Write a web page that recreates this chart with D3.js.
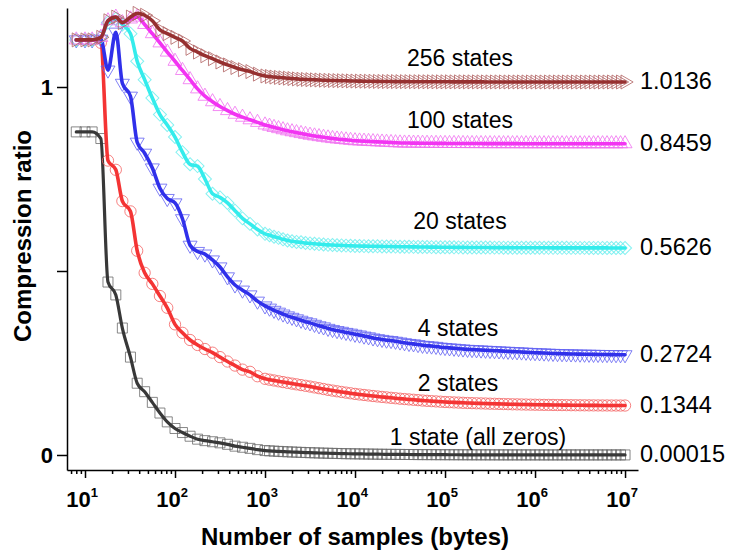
<!DOCTYPE html>
<html><head><meta charset="utf-8">
<script src="https://cdn.jsdelivr.net/npm/d3@7"></script>
<style>
body{margin:0;background:#fff}
svg{display:block}
text{font-family:"Liberation Sans",Arial,Helvetica,sans-serif;fill:#000}
</style>
</head><body>
<svg id="chart" width="730" height="554"></svg>
<script>
// ---------------- DATA ----------------
const samples = [8,10,12,15,18,22,26,32,38,46,56,68,82,100,121,147,178,215,261,316,383,464,562,681,825,1000,
1.122e3,1.259e3,1.413e3,1.585e3,1.778e3,1.995e3,2.239e3,2.512e3,2.818e3,3.162e3,3.548e3,3.981e3,4.467e3,5.012e3,5.623e3,6.310e3,7.079e3,7.943e3,8.913e3,1e4,
1.122e4,1.259e4,1.413e4,1.585e4,1.778e4,1.995e4,2.239e4,2.512e4,2.818e4,3.162e4,3.548e4,3.981e4,4.467e4,5.012e4,5.623e4,6.310e4,7.079e4,7.943e4,8.913e4,1e5,
1.122e5,1.259e5,1.413e5,1.585e5,1.778e5,1.995e5,2.239e5,2.512e5,2.818e5,3.162e5,3.548e5,3.981e5,4.467e5,5.012e5,5.623e5,6.310e5,7.079e5,7.943e5,8.913e5,1e6,
1.122e6,1.259e6,1.413e6,1.585e6,1.778e6,1.995e6,2.239e6,2.512e6,2.818e6,3.162e6,3.548e6,3.981e6,4.467e6,5.012e6,5.623e6,6.310e6,7.079e6,7.943e6,8.913e6,1e7];

const ratio1 = [0.878,0.878,0.878,0.86,0.47,0.435,0.345,0.266,0.195,0.172,0.143,0.114,0.09,0.072,0.061,0.051,0.043,0.039,0.036,0.033,0.029,0.024,0.021,0.018,0.0145,0.012,
0.0112,0.0105,0.0098,0.0092,0.0086,0.0081,0.0076,0.0071,0.0066,0.0062,
0.0058,0.0054,0.005,0.0047,0.0044,0.0041,0.0038,0.0035,0.0033,0.0031,
0.0029,0.0027,0.0025,0.0023,0.0021,0.002,0.0018,0.0017,0.0016,0.0015,
0.0014,0.0013,0.0012,0.0011,0.001,0.00095,0.0009,0.00085,0.0008,0.00075,
0.0007,0.00065,0.0006,0.00056,0.00052,0.00048,0.00045,0.00042,0.0004,0.00037,
0.00035,0.00033,0.00031,0.0003,0.00028,0.00027,0.00026,0.00025,0.00024,0.00023,
0.00022,0.00021,0.0002,0.0002,0.00019,0.00019,0.00018,0.00018,0.00017,0.00017,
0.00017,0.00016,0.00016,0.00016,0.00016,0.00016,0.00015,0.00015,0.00015,0.00015];

const ratio2 = [1.128,1.128,1.128,1.12,0.80,0.775,0.69,0.662,0.555,0.495,0.465,0.432,0.40,0.355,0.332,0.3125,0.299,0.288,0.278,0.266,0.254,0.243,0.232,0.226,0.214,0.207,
0.2047,0.2025,0.2003,0.1981,0.196,0.194,0.192,0.19,0.188,0.186,
0.1837,0.1815,0.1793,0.1771,0.175,0.1731,0.1713,0.1695,0.1677,0.166,
0.1645,0.1631,0.1617,0.1603,0.159,0.1578,0.1566,0.1554,0.1542,0.153,
0.152,0.151,0.15,0.149,0.148,0.1472,0.1464,0.1456,0.1448,0.144,
0.1435,0.1429,0.1424,0.1418,0.1413,0.1409,0.1405,0.1402,0.1398,0.1394,
0.1391,0.1388,0.1384,0.1381,0.1378,0.1376,0.1373,0.1371,0.1368,0.1366,
0.1364,0.1362,0.1361,0.1359,0.1357,0.1356,0.1355,0.1353,0.1352,0.1351,
0.135,0.1349,0.1348,0.1347,0.1346,0.1346,0.1345,0.1345,0.1344,0.1344];

const ratio4 = [1.128,1.128,1.128,1.13,1.046,1.149,1.01,0.975,0.85,0.82,0.78,0.725,0.697,0.685,0.642,0.57,0.553,0.546,0.53,0.511,0.484,0.462,0.448,0.435,0.418,0.405,
0.399,0.393,0.388,0.383,0.378,0.374,0.37,0.366,0.362,0.359,
0.355,0.351,0.348,0.344,0.341,0.338,0.336,0.333,0.331,0.328,
0.326,0.323,0.321,0.318,0.316,0.314,0.312,0.311,0.309,0.307,
0.305,0.303,0.302,0.3,0.298,0.297,0.296,0.295,0.293,0.292,
0.291,0.29,0.289,0.288,0.287,0.2864,0.2858,0.2852,0.2846,0.284,
0.2834,0.2828,0.2822,0.2816,0.281,0.2804,0.2798,0.2792,0.2786,0.278,
0.2775,0.277,0.2765,0.276,0.2755,0.2752,0.2749,0.2746,0.2743,0.274,
0.2738,0.2736,0.2734,0.2732,0.273,0.2729,0.2727,0.2726,0.2725,0.2724];

const ratio20 = [1.128,1.128,1.128,1.135,1.175,1.185,1.17,1.145,1.07,1.02,0.97,0.925,0.897,0.864,0.823,0.79,0.785,0.75,0.71,0.70,0.685,0.664,0.643,0.628,0.613,0.601,
0.597,0.593,0.59,0.586,0.583,0.581,0.579,0.578,0.576,0.575,
0.574,0.573,0.572,0.571,0.5705,0.57,0.5695,0.569,0.5685,0.568,
0.5678,0.5676,0.5674,0.5672,0.567,0.5668,0.5666,0.5664,0.5662,0.566,
0.5658,0.5657,0.5655,0.5654,0.5652,0.5651,0.5649,0.5648,0.5646,0.5645,
0.5644,0.5643,0.5642,0.5641,0.564,0.5639,0.5638,0.5638,0.5637,0.5636,
0.5635,0.5635,0.5634,0.5634,0.5633,0.5633,0.5632,0.5632,0.5631,0.5631,
0.5631,0.563,0.563,0.5629,0.5629,0.5629,0.5629,0.5628,0.5628,0.5628,
0.5628,0.5627,0.5627,0.5627,0.5627,0.5627,0.5626,0.5626,0.5626,0.5626];

const ratio100 = [1.128,1.128,1.128,1.135,1.18,1.19,1.175,1.185,1.19,1.17,1.145,1.12,1.095,1.07,1.045,1.02,0.995,0.975,0.96,0.947,0.936,0.926,0.918,0.911,0.904,0.897,
0.8935,0.8902,0.887,0.884,0.881,0.8785,0.876,0.8736,0.8713,0.869,
0.8671,0.8652,0.8634,0.8617,0.86,0.8587,0.8575,0.8563,0.8551,0.854,
0.8534,0.8528,0.8522,0.8516,0.851,0.8504,0.8498,0.8492,0.8486,0.848,
0.8478,0.8477,0.8475,0.8474,0.8472,0.8471,0.847,0.8469,0.8468,0.8467,
0.8466,0.8466,0.8465,0.8465,0.8464,0.8464,0.8463,0.8463,0.8462,0.8462,
0.8462,0.8462,0.8461,0.8461,0.8461,0.8461,0.846,0.846,0.846,0.846,
0.846,0.846,0.846,0.8459,0.8459,0.8459,0.8459,0.8459,0.8459,0.8459,
0.8459,0.8459,0.8459,0.8459,0.8459,0.8459,0.8459,0.8459,0.8459,0.8459];

const ratio256 = [1.128,1.128,1.128,1.135,1.18,1.19,1.175,1.19,1.2,1.195,1.18,1.155,1.145,1.135,1.125,1.105,1.095,1.085,1.077,1.068,1.06,1.053,1.047,1.042,1.035,1.03,
1.0285,1.027,1.026,1.025,1.024,1.023,1.022,1.021,1.0205,1.02,
1.0195,1.019,1.0185,1.018,1.0177,1.0174,1.0171,1.0168,1.0165,1.0162,
1.016,1.0158,1.0156,1.0154,1.0152,1.015,1.0149,1.0148,1.0147,1.0146,
1.0145,1.0145,1.0144,1.0144,1.0143,1.0143,1.0142,1.0142,1.0141,1.0141,
1.0141,1.014,1.014,1.014,1.0139,1.0139,1.0139,1.0139,1.0138,1.0138,
1.0138,1.0138,1.0138,1.0137,1.0137,1.0137,1.0137,1.0137,1.0137,1.0137,
1.0137,1.0136,1.0136,1.0136,1.0136,1.0136,1.0136,1.0136,1.0136,1.0136,
1.0136,1.0136,1.0136,1.0136,1.0136,1.0136,1.0136,1.0136,1.0136,1.0136];

const seriesNames = ["1 state (all zeros)","2 states","4 states","20 states","100 states","256 states"];
const finalLabels = ["0.00015","0.1344","0.2724","0.5626","0.8459","1.0136"];
const xTickExponents = [1,2,3,4,5,6,7];
const yTickValues = [0,0.5,1];
const yTickLabels = ["0","","1"];

// ---------------- STYLE ----------------
const seriesData = [ratio1, ratio2, ratio4, ratio20, ratio100, ratio256];
const styles = [
  {line:"#383838", mark:"#6a6a6a", sym:d3.symbolSquare, size:100, rot:0, lw:3.2},
  {line:"#f43434", mark:"#f46262", sym:d3.symbolCircle, size:100, rot:0, lw:3.6},
  {line:"#3030ea", mark:"#6262f2", sym:d3.symbolTriangle, size:85, rot:180, lw:3.6},
  {line:"#34ecec", mark:"#66eeee", sym:d3.symbolSquare, size:85, rot:45, lw:3.6},
  {line:"#f234f2", mark:"#f070f0", sym:d3.symbolTriangle, size:85, rot:0, lw:3.6},
  {line:"#963030", mark:"#b06262", sym:d3.symbolTriangle, size:85, rot:90, lw:3.6}
];
const labelPos = [
  {x:478, y:445}, {x:458, y:391}, {x:458, y:336},
  {x:460, y:229}, {x:460, y:128}, {x:460, y:66}
];

const svg = d3.select("#chart");
const x = d3.scaleLog().domain([Math.pow(10,0.8), Math.pow(10,7.144)]).range([67,638]);
const y = d3.scaleLinear().domain([-0.0408,1.2147]).range([470,8]);

// series
seriesData.forEach((vals, i) => {
  const st = styles[i];
  const n = Math.min(vals.length, samples.length);
  const pts = d3.range(n).map(k => [samples[k], vals[k]]);
  const g = svg.append("g");
  g.selectAll("path.m").data(pts).join("path")
    .attr("d", d3.symbol().type(st.sym).size(st.size))
    .attr("transform", d => `translate(${x(d[0])},${y(d[1])}) rotate(${st.rot})`)
    .attr("fill", "none").attr("stroke", st.mark).attr("stroke-width", 1).attr("stroke-opacity", 0.8);
  g.append("path").datum(pts)
    .attr("d", d3.line().x(d => x(d[0])).y(d => y(d[1])).curve(d3.curveMonotoneX))
    .attr("fill","none").attr("stroke", st.line).attr("stroke-width", st.lw)
    .attr("stroke-linejoin","round").attr("stroke-linecap","round");
});

// axes
svg.append("g").attr("transform","translate(0,470)")
  .call(d3.axisBottom(x).tickValues(xTickExponents.map(e => Math.pow(10,e))).tickFormat(() => "").tickSize(8).tickSizeOuter(0));
const minor = x.ticks().filter(v => Math.abs(Math.log10(v) - Math.round(Math.log10(v))) > 1e-6);
svg.append("g").attr("transform","translate(0,470)")
  .call(d3.axisBottom(x).tickValues(minor).tickFormat(() => "").tickSize(4).tickSizeOuter(0))
  .call(g => g.select(".domain").remove());
svg.selectAll(".tick line, .domain").attr("stroke","#000").attr("stroke-width",1.5);

xTickExponents.forEach(e => {
  const t = svg.append("text").attr("x", x(Math.pow(10,e)) - 3).attr("y", 507)
    .attr("text-anchor","middle").attr("font-size",22).attr("font-weight","bold");
  t.append("tspan").text("10");
  t.append("tspan").attr("dy",-10).attr("font-size",13).text(e);
});

const yAxis = svg.append("g").attr("transform","translate(67,0)")
  .call(d3.axisLeft(y).tickValues(yTickValues).tickFormat((d,i) => yTickLabels[i]).tickSize(10).tickSizeOuter(0));
yAxis.selectAll(".tick line, .domain").attr("stroke","#000").attr("stroke-width",1.5);
yAxis.selectAll(".tick text").attr("font-size",22).attr("font-weight","bold").attr("x",-14)
  .attr("font-family",'"Liberation Sans",Arial,sans-serif').attr("fill","#000");

// axis titles
svg.append("text").attr("x",355).attr("y",545).attr("text-anchor","middle")
  .attr("font-size",24).attr("font-weight","bold").text("Number of samples (bytes)");
svg.append("text").attr("transform","translate(31,236) rotate(-90)").attr("text-anchor","middle")
  .attr("font-size",24).attr("font-weight","bold").text("Compression ratio");

// series labels
seriesNames.forEach((nm, i) => {
  svg.append("text").attr("x",labelPos[i].x).attr("y",labelPos[i].y)
    .attr("text-anchor","middle").attr("font-size",23).text(nm);
  const last = seriesData[i][seriesData[i].length-1];
  svg.append("text").attr("x",640).attr("y",y(last)+7)
    .attr("font-size",23.5).text(finalLabels[i]);
});
</script>
</body></html>
